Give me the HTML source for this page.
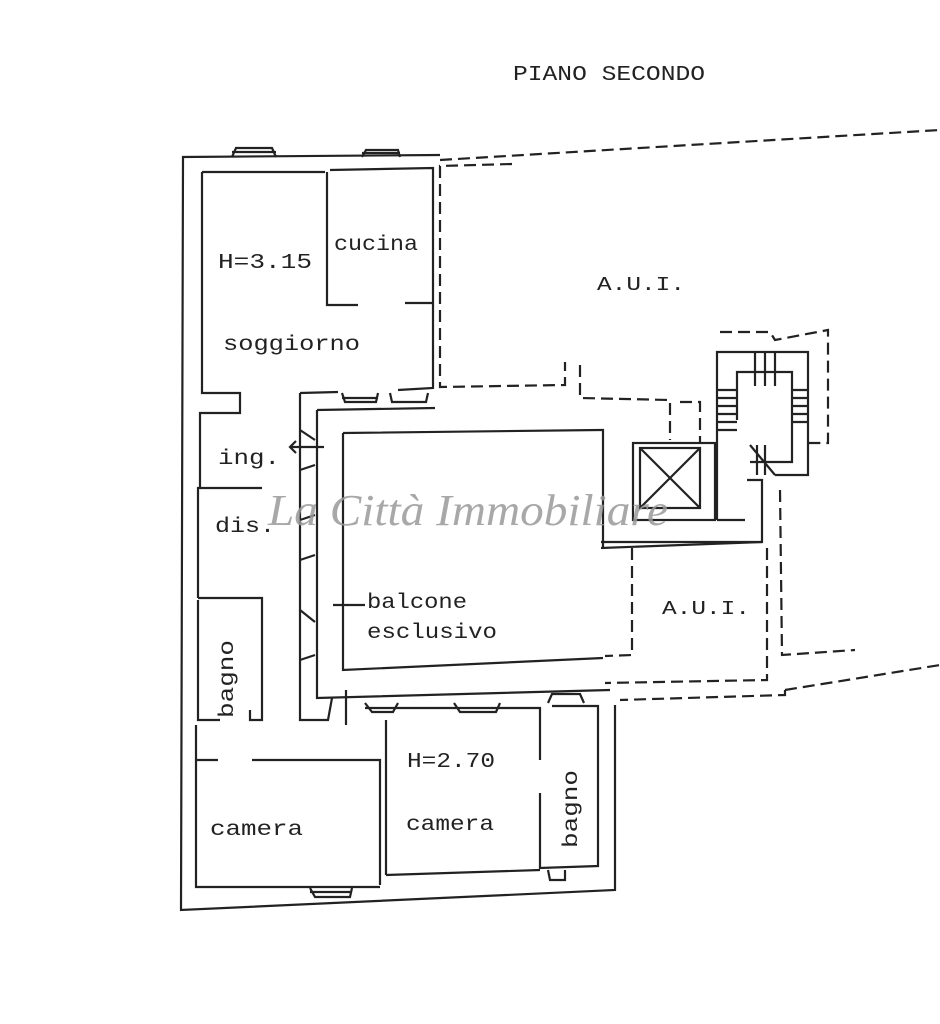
<!DOCTYPE html>
<html><head><meta charset="utf-8"><style>
html,body{margin:0;padding:0;background:#fff;}
svg{display:block}
text{font-family:"Liberation Mono",monospace;fill:#222}
</style></head><body>
<svg width="940" height="1024" viewBox="0 0 940 1024" xmlns="http://www.w3.org/2000/svg">
<g fill="none" stroke="#222" stroke-width="2.2">
<polyline points="440,155 183,157 181,910 615,890 615,705"/>
<polyline points="202,172 202,393 240,393 240,413 200,413 200,488 198,488 198,598"/>
<polyline points="202,172 325,172"/>
<polyline points="330,170 433,168 433,388 398,390"/>
<polyline points="327,172 327,305 358,305"/>
<polyline points="405,303 433,303"/>
<polyline points="200,488 262,488"/>
<polyline points="198,598 262,598 262,720 250,720 250,710"/>
<polyline points="198,600 198,720 220,720"/>
<polyline points="300,393 300,720 328,720 332,698"/>
<polyline points="300,393 338,392"/>
<polyline points="317,410 317,698 610,690"/>
<polyline points="317,410 435,408"/>
<polyline points="343,433 343,670 603,658"/>
<polyline points="343,433 600,430 603,430 603,548"/>
<polyline points="196,725 196,887 380,887"/>
<polyline points="196,760 218,760"/>
<polyline points="252,760 380,760 380,885"/>
<polyline points="386,875 540,870"/>
<polyline points="386,720 386,875"/>
<polyline points="365,708 540,708 540,760"/>
<polyline points="540,793 540,868 598,866 598,706 552,706"/>
<path d="M232,157 L236,148 L272,148 L276,157 M232,152 L276,152"/>
<path d="M362,157 L366,150 L398,150 L400,157 M362,153 L400,153"/>
<path d="M342,393 L345,402 L376,402 L378,393 M342,398 L378,398"/>
<path d="M390,393 L392,402 L426,402 L428,393"/>
<path d="M365,703 L372,712 L393,712 L398,703"/>
<path d="M454,703 L460,712 L496,712 L500,703"/>
<path d="M548,703 L552,694 L580,694 L584,703"/>
<path d="M310,888 L315,897 L350,897 L352,888 M310,892 L352,892"/>
<path d="M548,870 L550,880 L565,880 L565,870"/>
<path d="M300,430 L315,440 M300,470 L315,465 M300,520 L315,515 M300,560 L315,555 M300,610 L315,622 M300,660 L315,655"/>
<path d="M290,447 L324,447 M296,441 L290,447 L296,453"/>
<path d="M333,605 L365,605"/>
<path d="M346,690 L346,725"/>
<rect x="633" y="443" width="82" height="77"/>
<rect x="640" y="448" width="60" height="60"/>
<path d="M640,448 L700,508 M700,448 L640,508"/>
<polyline points="717,520 717,352 808,352 808,475 775,475"/>
<polyline points="737,420 737,372 792,372 792,462 750,462"/>
<path d="M717,390 L737,390 M717,398 L737,398 M717,406 L737,406 M717,414 L737,414 M717,422 L737,422 M717,430 L737,430 M792,390 L808,390 M792,398 L808,398 M792,406 L808,406 M792,414 L808,414 M792,422 L808,422 M755,352 L755,386 M765,352 L765,386 M775,352 L775,386 M757,445 L757,475 M765,445 L765,475 M750,445 L775,475"/>
<polyline points="747,480 762,480 762,542 601,542"/>
<polyline points="717,520 745,520"/>
<polyline points="601,548 762,542"/>
</g>
<g fill="none" stroke="#222" stroke-width="2.2" stroke-dasharray="12,6">
<polyline points="440,160 940,130"/>
<polyline points="512,164 440,166 440,387 565,385 565,362"/>
<polyline points="580,365 580,398 670,400 670,440"/>
<polyline points="680,402 700,402 700,443"/>
<polyline points="720,332 770,332 775,340 828,330 828,443 808,443"/>
<polyline points="632,548 632,655 605,656"/>
<polyline points="767,548 767,680 605,683"/>
<polyline points="780,490 782,655 855,650"/>
<polyline points="785,690 940,665"/>
<polyline points="785,690 785,695 620,700"/>
</g>
<g font-size="21" lengthAdjust="spacingAndGlyphs">
<text x="513" y="80" textLength="192" lengthAdjust="spacingAndGlyphs">PIANO SECONDO</text>
<text x="218" y="268" textLength="94" lengthAdjust="spacingAndGlyphs">H=3.15</text>
<text x="334" y="250" textLength="84" lengthAdjust="spacingAndGlyphs">cucina</text>
<text x="223" y="350" textLength="137" lengthAdjust="spacingAndGlyphs">soggiorno</text>
<text x="597" y="290" font-size="19" textLength="88" lengthAdjust="spacingAndGlyphs">A.U.I.</text>
<text x="218" y="464" textLength="62" lengthAdjust="spacingAndGlyphs">ing.</text>
<text x="215" y="532" textLength="60" lengthAdjust="spacingAndGlyphs">dis.</text>
<text x="367" y="608" textLength="100" lengthAdjust="spacingAndGlyphs">balcone</text>
<text x="367" y="638" textLength="130" lengthAdjust="spacingAndGlyphs">esclusivo</text>
<text x="662" y="614" font-size="19" textLength="88" lengthAdjust="spacingAndGlyphs">A.U.I.</text>
<text x="407" y="767" textLength="88" lengthAdjust="spacingAndGlyphs">H=2.70</text>
<text x="210" y="835" textLength="93" lengthAdjust="spacingAndGlyphs">camera</text>
<text x="406" y="830" textLength="88" lengthAdjust="spacingAndGlyphs">camera</text>
<text x="0" y="0" transform="translate(233,718) rotate(-90)" textLength="78" lengthAdjust="spacingAndGlyphs">bagno</text>
<text x="0" y="0" transform="translate(577,848) rotate(-90)" textLength="78" lengthAdjust="spacingAndGlyphs">bagno</text>
</g>
<text x="268" y="525" font-size="44" textLength="400" lengthAdjust="spacingAndGlyphs" style="font-family:'Liberation Serif',serif;font-style:italic;fill:#999;opacity:0.85">La Città Immobiliare</text>
</svg>
</body></html>
